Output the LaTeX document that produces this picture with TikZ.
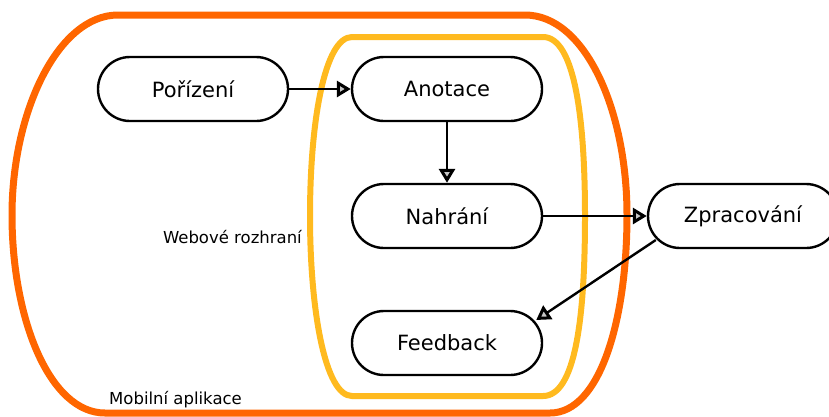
\documentclass[tikz,border=0pt]{standalone}
\usepackage{fontspec}
\setmainfont{DejaVu Sans}
\usetikzlibrary{arrows.meta,calc}
\definecolor{mobileorange}{HTML}{FF6600}
\definecolor{webyellow}{HTML}{FFBA1F}
\tikzset{
  stepbox/.style={draw=black, line width=2.4pt, rectangle, rounded corners=32pt,
    minimum width=190pt, minimum height=64pt, inner sep=0pt, font=\fontsize{21}{24}\selectfont},
  flow/.style={draw=black, line width=2.4pt,
    -{Triangle[length=14pt, width=16pt, line width=3pt, fill=gray!45]}},
  clusterlabel/.style={inner sep=0pt, font=\fontsize{16.5}{19}\selectfont},
  outerzone/.style={draw=mobileorange, line width=7pt},
  innerzone/.style={draw=webyellow, line width=6pt}
}
\begin{document}
\begin{tikzpicture}[x=1pt, y=-1pt]
  \useasboundingbox (0,0) rectangle (829,416);

  % Mobile application cluster
  \draw[outerzone] (118,15) -- (525,15)
    .. controls (585,15) and (627,110) .. (627,215)
    .. controls (627,320) and (600,413) .. (550,413)
    -- (105,413)
    .. controls (50,413) and (12,320) .. (12,215)
    .. controls (12,112) and (58,15) .. (118,15) -- cycle;

  % Web interface cluster
  \draw[innerzone] (352,37) -- (543,37)
    .. controls (575,37) and (585,120) .. (585,216)
    .. controls (585,320) and (575,396) .. (543,396)
    -- (352,396)
    .. controls (325,396) and (310,310) .. (310,216)
    .. controls (310,120) and (325,37) .. (352,37) -- cycle;

  \node[clusterlabel, anchor=east] (weblbl) at (302,237) {Webové rozhraní};
  \node[clusterlabel] (moblbl) at (175.5,400) {Mobilní aplikace};

  % Steps
  \node[stepbox] (por) at (193,89) {Pořízení};
  \node[stepbox] (ano) at (447,89) {Anotace};
  \node[stepbox] (nah) at (447,216) {Nahrání};
  \node[stepbox] (fb)  at (447,343) {Feedback};
  \node[stepbox] (zpr) at (743,216) {Zpracování};

  % Flow
  \draw[flow] (por) -- (ano);
  \draw[flow] (ano) -- (nah);
  \draw[flow] (nah) -- (zpr);
  \draw[flow] ($(zpr.west)+(9,24)$) -- ($(fb.east)+(-7,-23)$);
\end{tikzpicture}
\end{document}
